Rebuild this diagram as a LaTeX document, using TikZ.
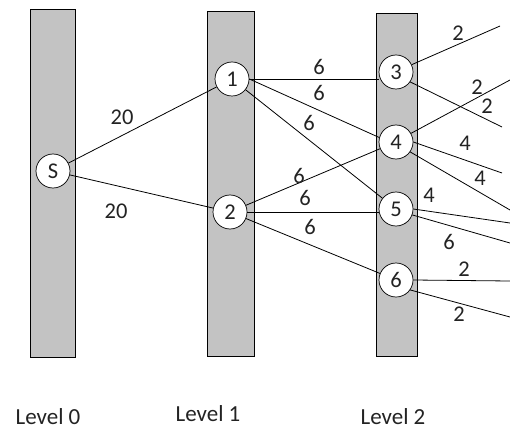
\documentclass[tikz,border=0pt]{standalone}
\usepackage{fontspec}
\setmainfont{Carlito}
\definecolor{bargray}{RGB}{195,195,195}
\definecolor{inkgray}{RGB}{35,35,35}
\begin{document}
\begin{tikzpicture}[x=1pt,y=-1pt,
  levelbar/.style={draw=black,fill=bargray,line width=0.9pt},
  vertex/.style={circle,draw=black,fill=white,line width=0.7pt,minimum size=34pt,inner sep=0pt,font=\fontsize{22.5}{22.5}\selectfont,text=inkgray},
  edge/.style={draw=black,line width=0.8pt},
  weight/.style={font=\fontsize{22.5}{22.5}\selectfont,text=inkgray,inner sep=0pt},
  caption/.style={font=\fontsize{23}{23}\selectfont,text=inkgray,inner sep=0pt,anchor=base}]
\useasboundingbox (0,0) rectangle (510,430);
\clip (0,0) rectangle (510,430);

% level columns
\draw[levelbar] (30,9) rectangle (75,357);
\draw[levelbar] (207,11) rectangle (254,356);
\draw[levelbar] (376,13) rectangle (417,356);

% vertices
\node[vertex] (S) at (53,171) {S};
\node[vertex] (n1) at (232,79) {1};
\node[vertex] (n2) at (230,212) {2};
\node[vertex] (n3) at (396,72) {3};
\node[vertex] (n4) at (396,142) {4};
\node[vertex] (n5) at (396,209) {5};
\node[vertex] (n6) at (396,280) {6};

% loose ends of the outgoing edges of level 2
\coordinate (a3) at (500,26);
\coordinate (b3) at (502,127);
\coordinate (a4) at (510,80);
\coordinate (b4) at (502,173);
\coordinate (c4) at (510,210);
\coordinate (a5) at (510,223);
\coordinate (b5) at (510,243);
\coordinate (a6) at (510,281);
\coordinate (b6) at (510,317);

% level 0 -> level 1
\draw[edge] (S) -- (n1);
\draw[edge] (S) -- (n2);

% level 1 -> level 2
\draw[edge] (n1.east) -- (n1.east -| n3.west);
\draw[edge] (n1.east) -- (n4.165);
\draw[edge] (n1) -- (n5);
\draw[edge] (n2) -- (n4);
\draw[edge] (n2.east) -- (n2.east -| n5.west);
\draw[edge] (n2) -- (n6);

% level 2 -> onwards
\draw[edge] (n3.25) -- (a3);
\draw[edge] (n3.-35) -- (b3);
\draw[edge] (n4.30) -- (a4);
\draw[edge] (n4.east) -- (b4);
\draw[edge] (n4.-35) -- (c4);
\draw[edge] (n5.east) -- (a5);
\draw[edge] (n5.-20) -- (b5);
\draw[edge] (n6.east) -- (a6);
\draw[edge] (n6.-35) -- (b6);

% edge weights
\node[weight] (w1) at (122,117) {20};
\node[weight] (w2) at (116,211) {20};
\node[weight] (w3) at (319,67) {6};
\node[weight] (w4) at (319,93) {6};
\node[weight] (w5) at (309,123) {6};
\node[weight] (w6) at (299,176) {6};
\node[weight] (w7) at (305,198) {6};
\node[weight] (w8) at (310,227) {6};
\node[weight] (w9) at (458,33) {2};
\node[weight] (w10) at (477,87) {2};
\node[weight] (w11) at (487,106) {2};
\node[weight] (w12) at (465,143) {4};
\node[weight] (w13) at (480,178) {4};
\node[weight] (w14) at (429,195) {4};
\node[weight] (w15) at (449,242) {6};
\node[weight] (w16) at (464,269) {2};
\node[weight] (w17) at (459,314) {2};

% level captions (placed by baseline)
\node[caption] (l0) at (48,424) {Level 0};
\node[caption] (l1) at (208,421) {Level 1};
\node[caption] (l2) at (393,424) {Level 2};
\end{tikzpicture}
\end{document}
